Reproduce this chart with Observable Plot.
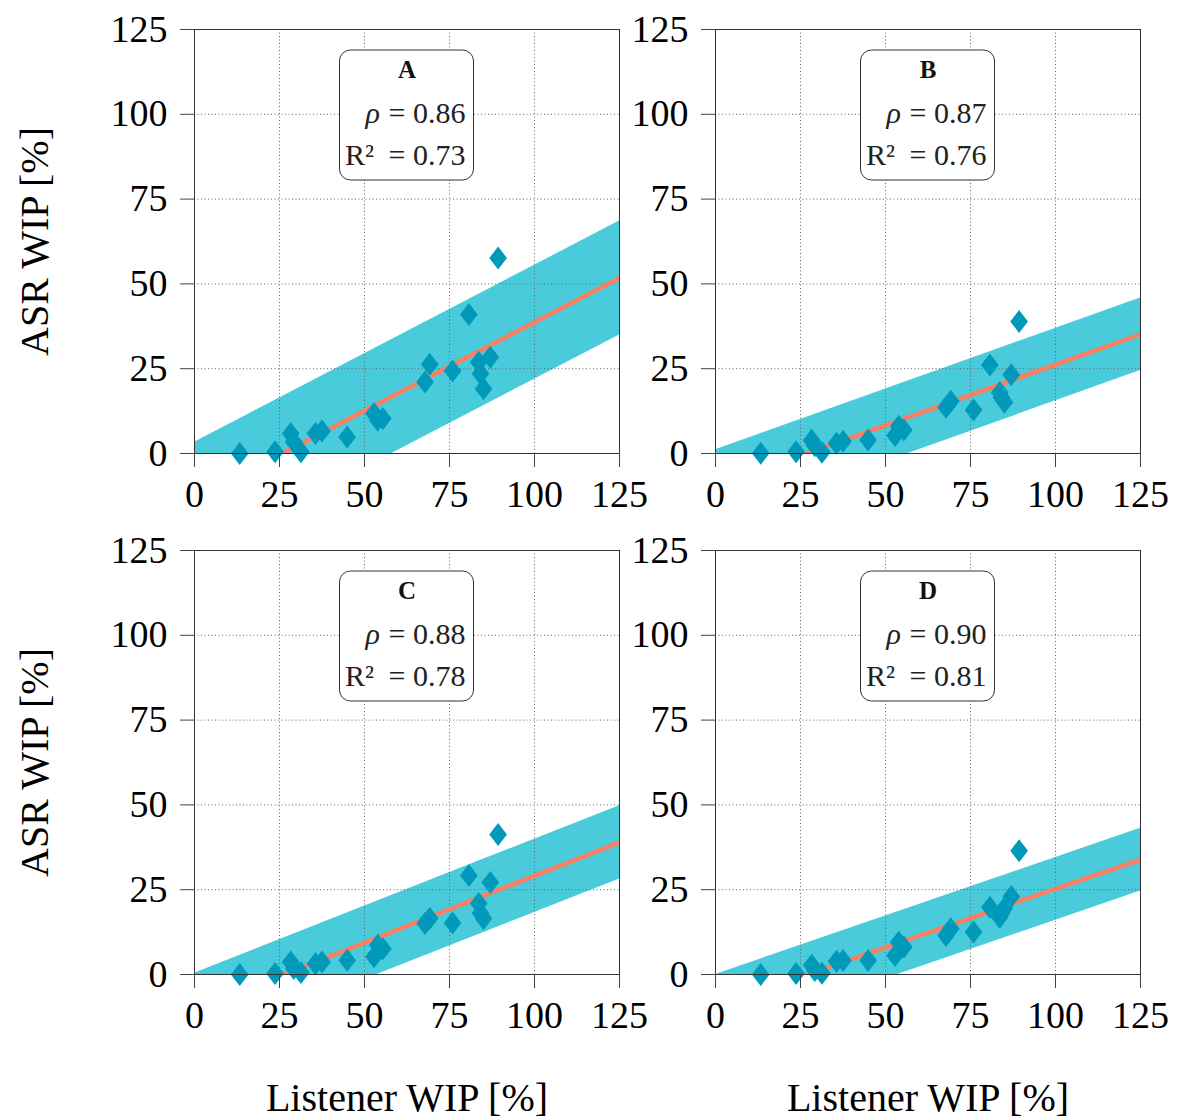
<!DOCTYPE html>
<html>
<head>
<meta charset="utf-8">
<script src="https://cdn.jsdelivr.net/npm/d3@7"></script>
<script src="https://cdn.jsdelivr.net/npm/@observablehq/plot@0.6"></script>
<style>
  html, body { margin: 0; padding: 0; background: white; }
  #wrap { position: relative; width: 1177px; height: 1119px; overflow: hidden; }
  #wrap > div { position: absolute; }
  #wrap svg, #wrap svg text { font-family: "Liberation Serif", "DejaVu Serif", serif !important; }
</style>
</head>
<body>
<div id="wrap"></div>
<script>
// ---------------- data ----------------
const listenerWIP = [13.3, 23.7, 28.3, 29.2, 31.3, 35.6, 37.5, 44.9, 52.8, 53.9, 55.4, 67.8, 69.2, 75.9, 80.7, 83.6, 84.1, 85.0, 87.0, 89.3];
const asrA = [0.0, 0.5, 5.9, 3.4, 0.5, 5.9, 6.6, 4.9, 11.8, 9.8, 10.3, 21.1, 26.3, 24.3, 41.0, 26.9, 23.5, 19.1, 28.4, 57.6];
const asrB = [0.1, 0.5, 3.9, 2.3, 0.4, 3.0, 3.6, 4.0, 5.3, 8.0, 6.9, 13.6, 15.4, 12.8, 26.1, 18.0, 16.5, 15.1, 23.2, 38.9];
const asrC = [0.0, 0.3, 3.7, 1.8, 0.6, 3.2, 3.7, 4.2, 5.2, 8.6, 7.6, 15.0, 16.6, 15.2, 29.2, 20.9, 18.1, 16.5, 27.1, 41.3];
const asrD = [0.0, 0.3, 2.7, 1.2, 0.4, 3.9, 4.1, 4.1, 5.6, 9.5, 8.1, 11.5, 13.5, 12.5, 19.8, 16.9, 18.0, 19.6, 23.0, 36.5];

const panelLetters = ["A", "B", "C", "D"];
const rhoValues = ["0.86", "0.87", "0.88", "0.90"];
const r2Values = ["0.73", "0.76", "0.78", "0.81"];
// linear fit: intercept, slope, half width of the band
const fitIntercept = [-13.5, -9.6, -10.4, -9.25];
const fitSlope = [0.522, 0.358, 0.395, 0.345];
const bandHalfWidth = [16.8, 10.7, 10.8, 9.25];

const xTicks = [0, 25, 50, 75, 100, 125];
const yTicks = [0, 25, 50, 75, 100, 125];
const xLabel = ["Listener WIP [%]"];
const yLabel = ["ASR WIP [%]"];

// ---------------- styles ----------------
const BAND = "#49cbdc";
const DOT = "#0099ba";
const LINE = "#fa7f60";
const FONT = "Liberation Serif, DejaVu Serif, serif";

const tallDiamond = {
  draw(context, size) {
    const r = Math.sqrt(size / Math.PI);
    const w = r * 0.77;
    context.moveTo(0, -r);
    context.lineTo(w, 0);
    context.lineTo(0, r);
    context.lineTo(-w, 0);
    context.closePath();
  }
};

function boxMark(index, scales, values, dimensions) {
  const {width, marginLeft, marginRight, marginTop} = dimensions;
  const cx = marginLeft + (width - marginLeft - marginRight) / 2;
  const rect = document.createElementNS("http://www.w3.org/2000/svg", "rect");
  const bw = 134, bh = 130;
  rect.setAttribute("x", cx - bw / 2);
  rect.setAttribute("y", marginTop + 21);
  rect.setAttribute("width", bw);
  rect.setAttribute("height", bh);
  rect.setAttribute("rx", 11);
  rect.setAttribute("ry", 11);
  rect.setAttribute("fill", "white");
  rect.setAttribute("stroke", "#333");
  rect.setAttribute("stroke-width", 1);
  return rect;
}

const series = [asrA, asrB, asrC, asrD];
const layout = [
  {left: 0, top: 0, height: 521, mb: 68, ylab: true, xlab: false},
  {left: 521, top: 0, height: 521, mb: 68, ylab: false, xlab: false},
  {left: 0, top: 521, height: 598, mb: 145, ylab: true, xlab: true},
  {left: 521, top: 521, height: 598, mb: 145, ylab: false, xlab: true}
];

const wrap = document.getElementById("wrap");

series.forEach((ys, i) => {
  const pts = listenerWIP.map((x, j) => ({x, y: ys[j]}));
  const a = fitIntercept[i], b = fitSlope[i], w = bandHalfWidth[i];
  const ends = [0, 125].map(x => ({x, y: a + b * x, lo: a + b * x - w, hi: a + b * x + w}));
  const L = layout[i];

  const marks = [
    Plot.areaY(ends, {x: "x", y1: "lo", y2: "hi", fill: BAND, fillOpacity: 1, clip: true}),
    Plot.gridX(xTicks, {stroke: "#666", strokeOpacity: 1, strokeDasharray: "1,2.5", strokeWidth: 1}),
    Plot.gridY(yTicks, {stroke: "#666", strokeOpacity: 1, strokeDasharray: "1,2.5", strokeWidth: 1}),
    Plot.line(ends, {x: "x", y: "y", stroke: LINE, strokeWidth: 4.5, clip: true}),
    Plot.dot(pts, {x: "x", y: "y", symbol: tallDiamond, r: 11.5, fill: DOT, stroke: null}),
    boxMark,
    Plot.text([panelLetters[i]], {frameAnchor: "top", lineAnchor: "middle", textAnchor: "middle", dx: 0, dy: 40, fontSize: 25, fontWeight: "bold", fill: "#111"}),
    Plot.text(["= " + rhoValues[i]], {frameAnchor: "top", lineAnchor: "middle", dx: 58.5, dy: 84, textAnchor: "end", fontSize: 30, fill: "#222"}),
    Plot.text(["ρ"], {frameAnchor: "top", lineAnchor: "middle", dx: -27, dy: 84, textAnchor: "end", fontSize: 30, fontStyle: "italic", fill: "#222"}),
    Plot.text(["= " + r2Values[i]], {frameAnchor: "top", lineAnchor: "middle", dx: 58.5, dy: 126, textAnchor: "end", fontSize: 30, fill: "#222"}),
    Plot.text(["R²"], {frameAnchor: "top", lineAnchor: "middle", dx: -33, dy: 126, textAnchor: "end", fontSize: 30, fill: "#222"}),
    Plot.frame({stroke: "#333", strokeWidth: 1}),
    Plot.axisX(xTicks, {tickSize: 14, tickPadding: 13, fontSize: 38, stroke: "#444", fill: "black", label: null, tickFormat: d => String(d)}),
    Plot.axisY(yTicks, {tickSize: 14, tickPadding: 13, fontSize: 38, stroke: "#444", fill: "black", label: null, tickFormat: d => String(d)})
  ];
  if (L.ylab) marks.push(Plot.text(yLabel, {frameAnchor: "left", textAnchor: "middle", lineAnchor: "middle", dx: -159, rotate: -90, fontSize: 40, fill: "black"}));
  if (L.xlab) marks.push(Plot.text(xLabel, {frameAnchor: "bottom", textAnchor: "middle", lineAnchor: "middle", dy: 124, fontSize: 40, fill: "black"}));

  const chart = Plot.plot({
    width: 640,
    height: L.height,
    marginLeft: 194,
    marginRight: 21,
    marginTop: 29,
    marginBottom: L.mb,
    x: {domain: [0, 125], label: null},
    y: {domain: [0, 125], label: null},
    style: {fontFamily: FONT, background: "transparent", overflow: "visible"},
    marks
  });
  const holder = document.createElement("div");
  holder.style.left = L.left + "px";
  holder.style.top = L.top + "px";
  holder.appendChild(chart);
  wrap.appendChild(holder);
});
</script>
</body>
</html>
